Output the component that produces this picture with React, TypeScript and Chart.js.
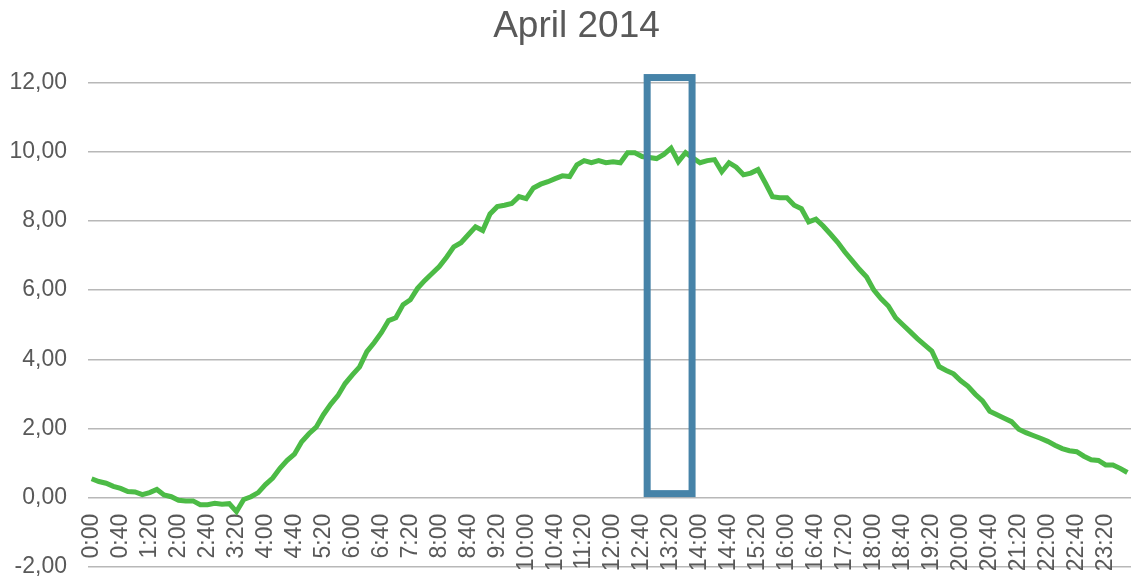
import React, { useEffect, useRef } from "react";
import { Chart, registerables } from "chart.js";

Chart.register(...registerables);

const TITLE = "April 2014";

// 10-minute time slots for the day
const HOURS = Array.from({ length: 24 }, (_, h) => h);
const MINUTES = [0, 10, 20, 30, 40, 50];
const TIME_LABELS: string[] = HOURS.flatMap((h) =>
  MINUTES.map((m) => `${h}:${m.toString().padStart(2, "0")}`)
);

// Values (one per 10 minutes)
const VALUES: number[] = [
  0.55, 0.47, 0.42, 0.33, 0.27, 0.18, 0.17, 0.09, 0.15, 0.24,
  0.08, 0.03, -0.07, -0.09, -0.09, -0.2, -0.2, -0.16, -0.19, -0.17,
  -0.4, -0.05, 0.03, 0.15, 0.38, 0.57, 0.85, 1.08, 1.26, 1.62,
  1.85, 2.04, 2.4, 2.7, 2.95, 3.3, 3.55, 3.78, 4.22, 4.48,
  4.77, 5.12, 5.2, 5.58, 5.72, 6.05, 6.28, 6.48, 6.68, 6.95,
  7.25, 7.37, 7.6, 7.83, 7.72, 8.2, 8.41, 8.45, 8.5, 8.7,
  8.64, 8.95, 9.06, 9.13, 9.22, 9.3, 9.28, 9.62, 9.74, 9.68,
  9.74, 9.68, 9.71, 9.68, 9.97, 9.97, 9.86, 9.83, 9.8, 9.92,
  10.1, 9.71, 9.97, 9.82, 9.68, 9.74, 9.77, 9.42, 9.68, 9.55,
  9.33, 9.38, 9.48, 9.1, 8.7, 8.67, 8.67, 8.45, 8.35, 7.97,
  8.05, 7.85, 7.62, 7.38, 7.1, 6.85, 6.6, 6.38, 6.0, 5.75,
  5.54, 5.2, 5.0, 4.8, 4.6, 4.42, 4.24, 3.79, 3.68, 3.58,
  3.38, 3.22, 2.99, 2.8, 2.5, 2.4, 2.3, 2.2, 1.98, 1.88,
  1.8, 1.72, 1.63, 1.52, 1.42, 1.36, 1.33, 1.2, 1.1, 1.08,
  0.95, 0.95, 0.85, 0.73,
];

const LABEL_EVERY = 4; // one tick label every 40 minutes
const Y_MIN = -2;
const Y_MAX = 12;
const Y_STEP = 2;

// Highlight box, in data units (category index / value)
const BOX_X_FROM = 76.7;
const BOX_X_TO = 82.9;
const BOX_Y_FROM = 0.12;
const BOX_Y_TO = 12.14;

const TEXT = "#595959";
const FONT = "'Liberation Sans', Arial, sans-serif";

const boxPlugin = {
  id: "highlightBox",
  afterLayout(chart: any) {
    // centre the title slightly right of the canvas centre, as in the reference
    if (chart.titleBlock) chart.titleBlock.left = 22;
  },
  afterDatasetsDraw(chart: any) {
    const xs = chart.scales.x;
    const ys = chart.scales.y;
    const l = xs.getPixelForValue(BOX_X_FROM);
    const r = xs.getPixelForValue(BOX_X_TO);
    const t = ys.getPixelForValue(BOX_Y_TO);
    const b = ys.getPixelForValue(BOX_Y_FROM);
    const ctx = chart.ctx;
    ctx.save();
    ctx.strokeStyle = "#4683a8";
    ctx.lineWidth = 7;
    ctx.lineJoin = "miter";
    ctx.strokeRect(l, t, r - l, b - t);
    ctx.restore();
  },
};

export default function App() {
  const ref = useRef<HTMLCanvasElement | null>(null);

  useEffect(() => {
    document.body.style.margin = "0";
    if (!ref.current) return;
    const chart = new Chart(ref.current, {
      type: "line",
      data: {
        labels: TIME_LABELS,
        datasets: [
          {
            data: VALUES,
            borderColor: "#4cbb46",
            borderWidth: 5,
            pointRadius: 0,
            tension: 0,
            fill: false,
          },
        ],
      },
      options: {
        responsive: false,
        animation: false,
        layout: { padding: { left: 0, right: 0, top: 0, bottom: 14 } },
        plugins: {
          legend: { display: false },
          tooltip: { enabled: false },
          title: {
            display: true,
            text: TITLE,
            color: TEXT,
            font: { family: FONT, size: 37, weight: "normal", lineHeight: 1.2 },
            padding: { top: 5, bottom: 33 },
          },
        },
        scales: {
          x: {
            type: "category",
            position: { y: 0 } as any,
            offset: true,
            grid: { display: false, drawTicks: true, tickLength: 16 },
            border: { display: false },
            ticks: {
              autoSkip: false,
              maxRotation: 90,
              minRotation: 90,
              padding: 0,
              color: TEXT,
              font: { family: FONT, size: 23, lineHeight: 0.1 },
              callback: (_v: any, i: number) =>
                i % LABEL_EVERY === 0 ? TIME_LABELS[i] : "",
            },
          },
          y: {
            min: Y_MIN,
            max: Y_MAX,
            afterFit: (s: any) => {
              s.width = 88;
            },
            grid: {
              color: "#b8b8b8",
              lineWidth: 1.5,
              drawTicks: true,
              tickLength: 21,
              tickColor: "rgba(0,0,0,0)",
            },
            border: { display: false },
            ticks: {
              stepSize: Y_STEP,
              padding: 0,
              color: TEXT,
              font: { family: FONT, size: 23 },
              callback: (v: any) => Number(v).toFixed(2).replace(".", ","),
            },
          },
        },
      },
      plugins: [boxPlugin],
    });
    return () => chart.destroy();
  }, []);

  return <canvas ref={ref} width={1131} height={581} style={{ display: "block" }} />;
}
